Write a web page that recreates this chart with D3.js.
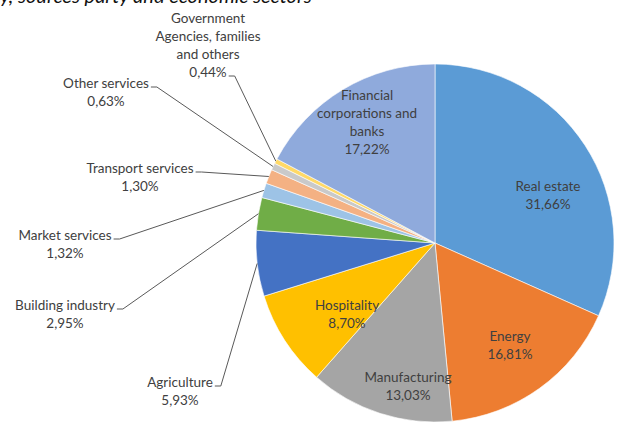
<!DOCTYPE html>
<html>
<head>
<meta charset="utf-8">
<script src="https://cdn.jsdelivr.net/npm/d3@7/dist/d3.min.js"></script>
<style>
  html, body { margin: 0; padding: 0; background: #fff; }
  svg { display: block; }
  text { font-family: Lato, "Open Sans", sans-serif; }
</style>
</head>
<body>
<svg id="chart" width="617" height="423"></svg>
<script>
// Share of loans by economic sector (%)
const sectors = [
  "Real estate", "Energy", "Manufacturing", "Hospitality", "Agriculture",
  "Building industry", "Market services", "Transport services", "Other services",
  "Government Agencies, families and others", "Financial corporations and banks"
];
const shares = [31.66, 16.81, 13.03, 8.70, 5.93, 2.95, 1.32, 1.30, 0.63, 0.44, 17.22];
const sliceColors = [
  "#5B9BD5", "#ED7D31", "#A5A5A5", "#FFC000", "#4472C4", "#70AD47",
  "#9DC3E6", "#F4B183", "#C9C9C9", "#FFD966", "#8FAADC"
];
// Label text lines for each slice (value line appended below)
const labelLines = [
  ["Real estate"], ["Energy"], ["Manufacturing"], ["Hospitality"], ["Agriculture"],
  ["Building industry"], ["Market services"], ["Transport services"], ["Other services"],
  ["Government", "Agencies, families", "and others"],
  ["Financial", "corporations and", "banks"]
];

// Label placement: centre x and first-line centre y; outside labels carry a leader line
const labelLayout = [
  { x: 548, y: 186, inside: true },
  { x: 510, y: 336, inside: true },
  { x: 408, y: 377, inside: true },
  { x: 347, y: 305, inside: true },
  { x: 180, y: 382, line: 0 },
  { x: 65,  y: 305, line: 0 },
  { x: 65,  y: 235, line: 0 },
  { x: 140, y: 168, line: 0 },
  { x: 106, y: 83,  line: 0 },
  { x: 208, y: 18,  line: 3 },
  { x: 367, y: 95,  inside: true }
];

const fmt = v => v.toFixed(2).replace(".", ",") + "%";

const svg = d3.select("#chart");
const cx = 435, cy = 243, radius = 179;
const lineH = 18;

// Title, running off the top edge
svg.append("text")
  .attr("x", 0).attr("y", 3)
  .attr("font-size", 20).attr("font-style", "italic")
  .attr("fill", "#111")
  .text("y, sources party and economic sectors");

const pie = d3.pie().sort(null).value(d => d)(shares);
const arc = d3.arc().innerRadius(0).outerRadius(radius);

const g = svg.append("g").attr("transform", `translate(${cx},${cy})`);
g.selectAll("path.slice")
  .data(pie)
  .join("path")
  .attr("class", "slice")
  .attr("d", arc)
  .attr("fill", (d, i) => sliceColors[i])
  .attr("stroke", "#fff")
  .attr("stroke-width", 0.6);

// Labels
const labels = svg.append("g");
pie.forEach((d, i) => {
  const lay = labelLayout[i];
  const lines = labelLines[i].concat([fmt(shares[i])]);
  const t = labels.append("text")
    .attr("text-anchor", "middle")
    .attr("font-size", 13.5)
    .attr("fill", "#404040");
  const spans = lines.map((ln, k) =>
    t.append("tspan")
      .attr("x", lay.x)
      .attr("y", lay.y + k * lineH)
      .attr("dy", "0.35em")
      .text(ln)
  );
  if (!lay.inside) {
    const k = lay.line;
    const w = spans[k].node().getComputedTextLength();
    const ax = lay.x + w / 2 + 2;
    const ay = lay.y + k * lineH + 4;
    const mid = (d.startAngle + d.endAngle) / 2;
    const ex = cx + radius * Math.sin(mid);
    const ey = cy - radius * Math.cos(mid);
    labels.append("path")
      .attr("d", d3.line()([[ax, ay], [ax + 6, ay], [ex, ey]]))
      .attr("fill", "none")
      .attr("stroke", "#595959")
      .attr("stroke-width", 1);
  }
});
</script>
</body>
</html>
